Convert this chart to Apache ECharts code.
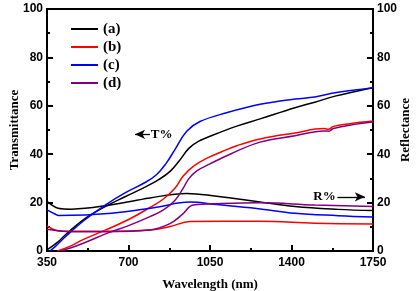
<!DOCTYPE html>
<html><head><meta charset="utf-8">
<script src="https://cdn.jsdelivr.net/npm/echarts@6/dist/echarts.min.js"></script>
<style>html,body{margin:0;padding:0;background:#fff}#c{width:418px;height:291px}</style>
</head><body><div id="c"></div>
<script>
const xTicks = [350, 700, 1050, 1400, 1750];
const legendNames = ['(a)', '(b)', '(c)', '(d)'];
const colors = ['#000000', '#ff0000', '#0000ff', '#800080'];

// Transmittance (%) : [wavelength nm, value]
const T_a = [[350,0.5],[400,4],[430,6.8],[513,13.4],[600,18.3],[685,22.4],[771,26.4],[830,29.5],[880,33],[920,37.5],[960,42.5],[1000,45.3],[1050,47.4],[1165,51.6],[1265,54.6],[1415,59.2],[1500,61.5],[1587,64],[1680,66],[1750,67.5]];
const T_b = [[395,0],[450,2],[500,4.5],[600,8.6],[700,13],[792,18],[850,21.5],[900,26],[935,31],[978,35],[1040,38.5],[1100,41],[1165,43.5],[1265,46.3],[1415,48.8],[1540,50.6],[1560,50.3],[1580,51.5],[1650,52.6],[1750,53.7]];
const T_c = [[362,0],[385,1.8],[430,6],[513,12.9],[600,19],[685,24],[771,28.3],[820,31.5],[860,36],[900,42],[950,49.5],[1007,53.5],[1121,57.1],[1265,60.6],[1415,62.8],[1500,63.6],[1587,65.4],[1680,66.6],[1750,67.5]];
const T_d = [[410,0],[500,3],[612,7.5],[700,10.5],[792,14.2],[850,17],[900,21],[935,26],[960,30],[995,33.2],[1050,36],[1136,40],[1265,45],[1415,47.6],[1540,49.6],[1560,49.5],[1580,50.6],[1650,52],[1750,53.3]];

// Reflectance (%)
const R_a = [[350,20.5],[365,19.4],[397,17.7],[456,17.3],[628,19.1],[792,21.9],[950,23.8],[1079,22.6],[1250,20.5],[1415,18.4],[1600,17.2],[1750,16.7]];
const R_b = [[350,10.4],[384,8.7],[420,8.2],[600,8.2],[792,8.7],[878,10.1],[964,12.2],[1265,12.3],[1500,11.5],[1750,11.2]];
const R_c = [[350,17],[384,15.3],[400,14.7],[628,15.6],[814,18],[964,20.2],[1079,19.2],[1250,17.6],[1415,15.6],[1600,14.6],[1750,14]];
const R_d = [[350,9],[456,8],[600,8],[792,8.7],[878,11.3],[930,15],[978,19],[1100,19.6],[1265,19.9],[1500,19],[1750,18.4]];

const Tsets = [T_a, T_b, T_c, T_d];
const Rsets = [R_a, R_b, R_c, R_d];

const chart = echarts.init(document.getElementById('c'), null, {renderer: 'canvas'});
const series = [];
for (let i = 0; i < 4; i++) {
  series.push({name: legendNames[i], type: 'line', data: Tsets[i], yAxisIndex: 0, smooth: 0.4, symbol: 'none',
    lineStyle: {color: colors[i], width: 1.5}, itemStyle: {color: colors[i]}, z: 3});
  series.push({name: legendNames[i], type: 'line', data: Rsets[i], yAxisIndex: 1, smooth: 0.4, symbol: 'none',
    lineStyle: {color: colors[i], width: 1.5}, itemStyle: {color: colors[i]}, z: 3});
}
// annotation arrows (data coordinates)
series.push({type: 'line', data: [], yAxisIndex: 0, symbol: 'none', silent: true,
  markLine: {silent: true, symbol: ['arrow', 'none'], symbolSize: [7, 10],
    lineStyle: {color: '#000', width: 1.3, type: 'solid'}, label: {show: false},
    data: [[{coord: [728, 48.2]}, {coord: [792, 48.2]}], [{coord: [1715, 22.4]}, {coord: [1597, 22.4]}]]}});

const axisLabelStyle = {fontFamily: 'Liberation Sans, Arial', fontWeight: 'bold', fontSize: 12, color: '#000'};
const nameStyle = {fontFamily: 'Liberation Serif, Times New Roman', fontWeight: 'bold', fontSize: 13, color: '#000'};

chart.setOption({
  animation: false,
  backgroundColor: '#fff',
  grid: {left: 47, right: 45, top: 9, bottom: 40, outerBoundsMode: 'none', containLabel: false,
    show: true, borderColor: '#000', borderWidth: 2, backgroundColor: 'transparent'},
  legend: {data: legendNames, orient: 'vertical', left: 66, top: 16, icon: 'rect', itemWidth: 27, itemHeight: 2, itemGap: 2,
    textStyle: {fontFamily: 'Liberation Serif, Times New Roman', fontWeight: 'bold', fontSize: 15, color: '#000', lineHeight: 16, padding: [0, 0, 0, 0]}},
  xAxis: {type: 'value', min: 350, max: 1750, interval: 350,
    name: 'Wavelength (nm)', nameLocation: 'middle', nameGap: 27, nameMoveOverlap: false, nameTextStyle: nameStyle,
    axisLine: {lineStyle: {color: '#000', width: 2}},
    axisTick: {inside: true, length: 6, lineStyle: {width: 2, color: '#000'}},
    minorTick: {show: true, splitNumber: 2, length: 3, lineStyle: {width: 2, color: '#000'}},
    splitLine: {show: false},
    axisLabel: Object.assign({margin: 6, formatter: v => xTicks.includes(v) ? String(v) : ''}, axisLabelStyle)},
  yAxis: [
    {type: 'value', min: 0, max: 100, interval: 20, position: 'left',
      name: 'Transmittance', nameLocation: 'middle', nameGap: 26, nameMoveOverlap: false, nameRotate: 90, nameTextStyle: nameStyle,
      axisLine: {show: true, lineStyle: {color: '#000', width: 2}},
      axisTick: {show: true, inside: true, length: 6, lineStyle: {width: 2, color: '#000'}},
      minorTick: {show: true, splitNumber: 2, length: 3, lineStyle: {width: 2, color: '#000'}},
      splitLine: {show: false}, axisLabel: Object.assign({margin: 4}, axisLabelStyle)},
    {type: 'value', min: 0, max: 100, interval: 20, position: 'right',
      name: 'Reflectance', nameLocation: 'middle', nameGap: 26, nameMoveOverlap: false, nameRotate: 90, nameTextStyle: nameStyle,
      axisLine: {show: true, lineStyle: {color: '#000', width: 2}},
      axisTick: {show: true, inside: true, length: 6, lineStyle: {width: 2, color: '#000'}},
      minorTick: {show: true, splitNumber: 2, length: 3, lineStyle: {width: 2, color: '#000'}},
      splitLine: {show: false}, axisLabel: Object.assign({margin: 4}, axisLabelStyle)}
  ],
  series: series
});

const pT = chart.convertToPixel({xAxisIndex: 0, yAxisIndex: 0}, [796, 48.2]);
const pR = chart.convertToPixel({xAxisIndex: 0, yAxisIndex: 0}, [1590, 22.4]);
chart.setOption({graphic: [
  {type: 'text', x: pT[0], y: pT[1], style: {text: 'T%', font: 'bold 13px "Liberation Serif"', fill: '#000', align: 'left', verticalAlign: 'middle'}},
  {type: 'text', x: pR[0], y: pR[1], style: {text: 'R%', font: 'bold 13px "Liberation Serif"', fill: '#000', align: 'right', verticalAlign: 'middle'}}
]});
</script></body></html>
